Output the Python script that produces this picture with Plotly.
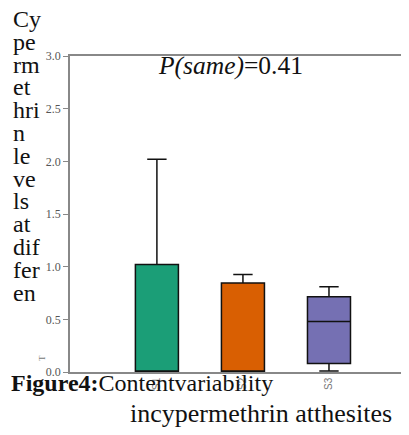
import plotly.graph_objects as go

# ---- data ----
sites = ["S1", "S2", "S3"]
lower_fence = [0.0, 0.0, 0.01]
q1_vals = [0.0, 0.0, 0.08]
median_vals = [0.0, 0.01, 0.48]
q3_vals = [1.02, 0.845, 0.715]
upper_fence = [2.02, 0.925, 0.81]
box_colors = ["#1b9e77", "#d95f02", "#7570b3"]

y_ticks = [0.0, 0.5, 1.0, 1.5, 2.0, 2.5, 3.0]
p_text = "<i>P(same)</i>=0.41"
left_title_lines = ["Cy", "pe", "rm", "et", "hri", "n", "le", "ve", "ls", "at", "dif", "fer", "en"]
caption_line1 = "<b>Figure4:</b>Contentvariability"
caption_line2 = "incypermethrin atthesites"

SERIF = "Liberation Serif, Times New Roman, serif"
SANS = "Liberation Sans, Arial, sans-serif"

# the page body adds an 8px margin; size the figure so it fills the window
OFF = 8
W, H = 409 - OFF, 435 - OFF
ML, MR, MT, MB = 70 - OFF, 0, 56 - OFF, 63
PW, PH = W - ML - MR, H - MT - MB


def px_x(px):
    # px: page pixel coordinate
    return (px - OFF - ML) / PW


def px_y(py):
    return (H - MB - (py - OFF)) / PH


fig = go.Figure()
for i, s in enumerate(sites):
    fig.add_trace(go.Box(
        x=[s],
        q1=[q1_vals[i]], median=[median_vals[i]], q3=[q3_vals[i]],
        lowerfence=[lower_fence[i]], upperfence=[upper_fence[i]],
        fillcolor=box_colors[i],
        line=dict(color="#111111", width=1.5),
        width=0.5,
        whiskerwidth=0.45,
        boxpoints=False,
        showlegend=False,
        hoverinfo="skip",
    ))

annotations = []
# wrapped y-axis title at the left
for k, t in enumerate(left_title_lines):
    baseline = 27 + 22.8 * k
    annotations.append(dict(
        text=t, xref="paper", yref="paper",
        x=px_x(12), y=px_y(baseline - 8),
        xanchor="left", yanchor="middle", showarrow=False, borderpad=0,
        font=dict(family=SERIF, size=24, color="#111111"),
    ))
# little clipped rotated glyph
annotations.append(dict(
    text="T", xref="paper", yref="paper", x=px_x(42), y=px_y(358),
    xanchor="center", yanchor="middle", showarrow=False, textangle=-90,
    font=dict(family=SERIF, size=9, color="#777777"),
))
# P(same)
annotations.append(dict(
    text=p_text, xref="paper", yref="paper", x=px_x(157), y=px_y(66),
    xanchor="left", yanchor="middle", showarrow=False, borderpad=0,
    font=dict(family=SERIF, size=25.5, color="#111111"),
))
# caption
annotations.append(dict(
    text=caption_line1, xref="paper", yref="paper", x=px_x(10), y=px_y(383),
    xanchor="left", yanchor="middle", showarrow=False, borderpad=0,
    font=dict(family=SERIF, size=24, color="#111111"),
))
annotations.append(dict(
    text=caption_line2, xref="paper", yref="paper", x=px_x(129), y=px_y(413),
    xanchor="left", yanchor="middle", showarrow=False, borderpad=0,
    font=dict(family=SERIF, size=26, color="#111111"),
))

fig.update_layout(
    width=W, height=H,
    margin=dict(l=ML, r=MR, t=MT, b=MB, pad=0),
    paper_bgcolor="white", plot_bgcolor="white",
    boxmode="overlay",
    annotations=annotations,
    xaxis=dict(
        type="category", categoryorder="array", categoryarray=sites,
        range=[-1.01, 2.93],
        showline=True, linecolor="#888888", linewidth=1.5, mirror=True,
        ticks="", showgrid=False, zeroline=False,
        tickangle=-90,
        tickfont=dict(family=SANS, size=10, color="#777777"),
    ),
    yaxis=dict(
        range=[0, 3], tickvals=y_ticks, tickformat=".1f",
        showline=True, linecolor="#888888", linewidth=1.5,
        ticks="outside", ticklen=5, tickcolor="#888888", tickwidth=1,
        showgrid=False, zeroline=False,
        tickfont=dict(family=SERIF, size=12, color="#555555"),
    ),
)

fig.write_html("out.html")
